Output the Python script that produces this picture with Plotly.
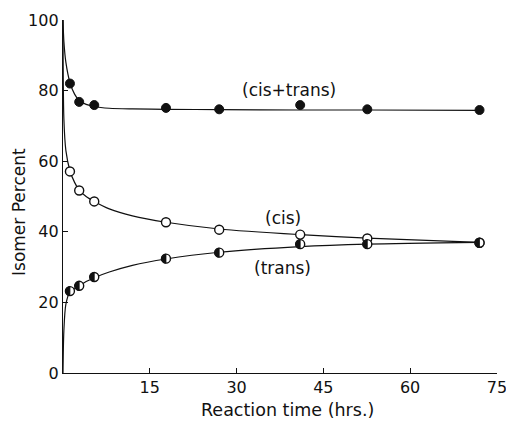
import plotly.graph_objects as go

# Measured isomer composition vs reaction time
time_hrs = [1.2, 2.8, 5.4, 17.8, 27, 41, 52.6, 72]
total_pct = [82.0, 76.8, 75.9, 75.1, 74.7, 75.9, 74.7, 74.5]
cis_pct = [57.1, 51.7, 48.6, 42.7, 40.6, 39.2, 38.1, 36.9]
trans_pct = [23.2, 24.7, 27.2, 32.4, 34.1, 36.5, 36.5, 36.9]

# Smooth fitted curves
curve_t = [0, 0.15, 0.5, 1.2, 2.0, 2.8, 4.0, 5.4, 8, 12, 17.8, 27, 41, 52.6, 72]
curve_total = [100, 94, 88, 82.3, 79.0, 77.2, 76.1, 75.5, 75.0, 74.8, 74.7, 74.6, 74.5, 74.5, 74.4]
curve_cis = [100, 72, 63, 57.3, 54.0, 51.8, 50.0, 48.6, 46.5, 44.5, 42.7, 40.8, 39.2, 38.2, 37.0]
curve_trans = [0, 12, 19.5, 23.0, 23.9, 24.7, 25.9, 27.0, 28.6, 30.5, 32.3, 34.2, 35.8, 36.5, 37.0]

x_ticks = [15, 30, 45, 60, 75]
y_ticks = [0, 20, 40, 60, 80, 100]

FONT = "DejaVu Sans"
ink = "#111111"
MARKER = 9

fig = go.Figure()

for ys in (curve_total, curve_cis, curve_trans):
    fig.add_trace(go.Scatter(x=curve_t, y=ys, mode="lines",
                             line=dict(color=ink, width=1.2, shape="spline", smoothing=0.8),
                             hoverinfo="skip", showlegend=False))

fig.add_trace(go.Scatter(x=time_hrs, y=total_pct, mode="markers", name="cis+trans",
                         marker=dict(symbol="circle", size=MARKER, color=ink,
                                     line=dict(color=ink, width=1)),
                         showlegend=False))
fig.add_trace(go.Scatter(x=time_hrs, y=cis_pct, mode="markers", name="cis",
                         marker=dict(symbol="circle", size=MARKER, color="white",
                                     line=dict(color=ink, width=1.4)),
                         showlegend=False))
fig.add_trace(go.Scatter(x=time_hrs, y=trans_pct, mode="markers", name="trans",
                         marker=dict(symbol="circle", size=MARKER, color="white",
                                     line=dict(color=ink, width=1.4)),
                         showlegend=False))

# left half of each trans marker filled: a pixel-sized half-disc anchored at the point
r = MARKER / 2
k = 0.5523 * r
half_disc = (f"M0,{r} C{-k},{r} {-r},{k} {-r},0 "
             f"C{-r},{-k} {-k},{-r} 0,{-r} Z")
for t, v in zip(time_hrs, trans_pct):
    fig.add_shape(type="path", xref="x", yref="y", xsizemode="pixel", ysizemode="pixel",
                  xanchor=t, yanchor=v, path=half_disc,
                  fillcolor=ink, line=dict(color=ink, width=0.8), layer="above")

labels = [("(cis+trans)", 39.0, 80.3), ("(cis)", 38.0, 43.9), ("(trans)", 38.0, 29.7)]
for txt, xv, yv in labels:
    fig.add_annotation(x=xv, y=yv, text=txt, showarrow=False,
                       font=dict(family=FONT, size=17, color=ink))

fig.add_annotation(xref="paper", yref="paper", x=-0.1, y=0.455, text="Isomer Percent",
                   textangle=-90, showarrow=False, xanchor="center", yanchor="middle",
                   font=dict(family=FONT, size=17, color=ink))
fig.add_annotation(xref="paper", yref="paper", x=0.518, y=-0.105, text="Reaction time (hrs.)",
                   showarrow=False, xanchor="center", yanchor="middle",
                   font=dict(family=FONT, size=17.5, color=ink))

fig.update_layout(
    width=506, height=433,
    margin=dict(l=63, r=9, t=20, b=60, autoexpand=False),
    paper_bgcolor="white", plot_bgcolor="white",
    font=dict(family=FONT, size=16, color=ink),
    xaxis=dict(range=[0, 75.02], tickvals=x_ticks, ticks="inside", ticklen=5,
               tickcolor=ink, showline=True, linecolor=ink, linewidth=1.3,
               showgrid=False, zeroline=False, ticklabeloverflow="allow",
               automargin=False, tickfont=dict(size=16)),
    yaxis=dict(range=[0, 100], tickvals=y_ticks, ticks="inside", ticklen=5,
               tickcolor=ink, showline=True, linecolor=ink, linewidth=1.3,
               showgrid=False, zeroline=False, automargin=False,
               tickfont=dict(size=16)),
)

fig.write_html("out.html")
